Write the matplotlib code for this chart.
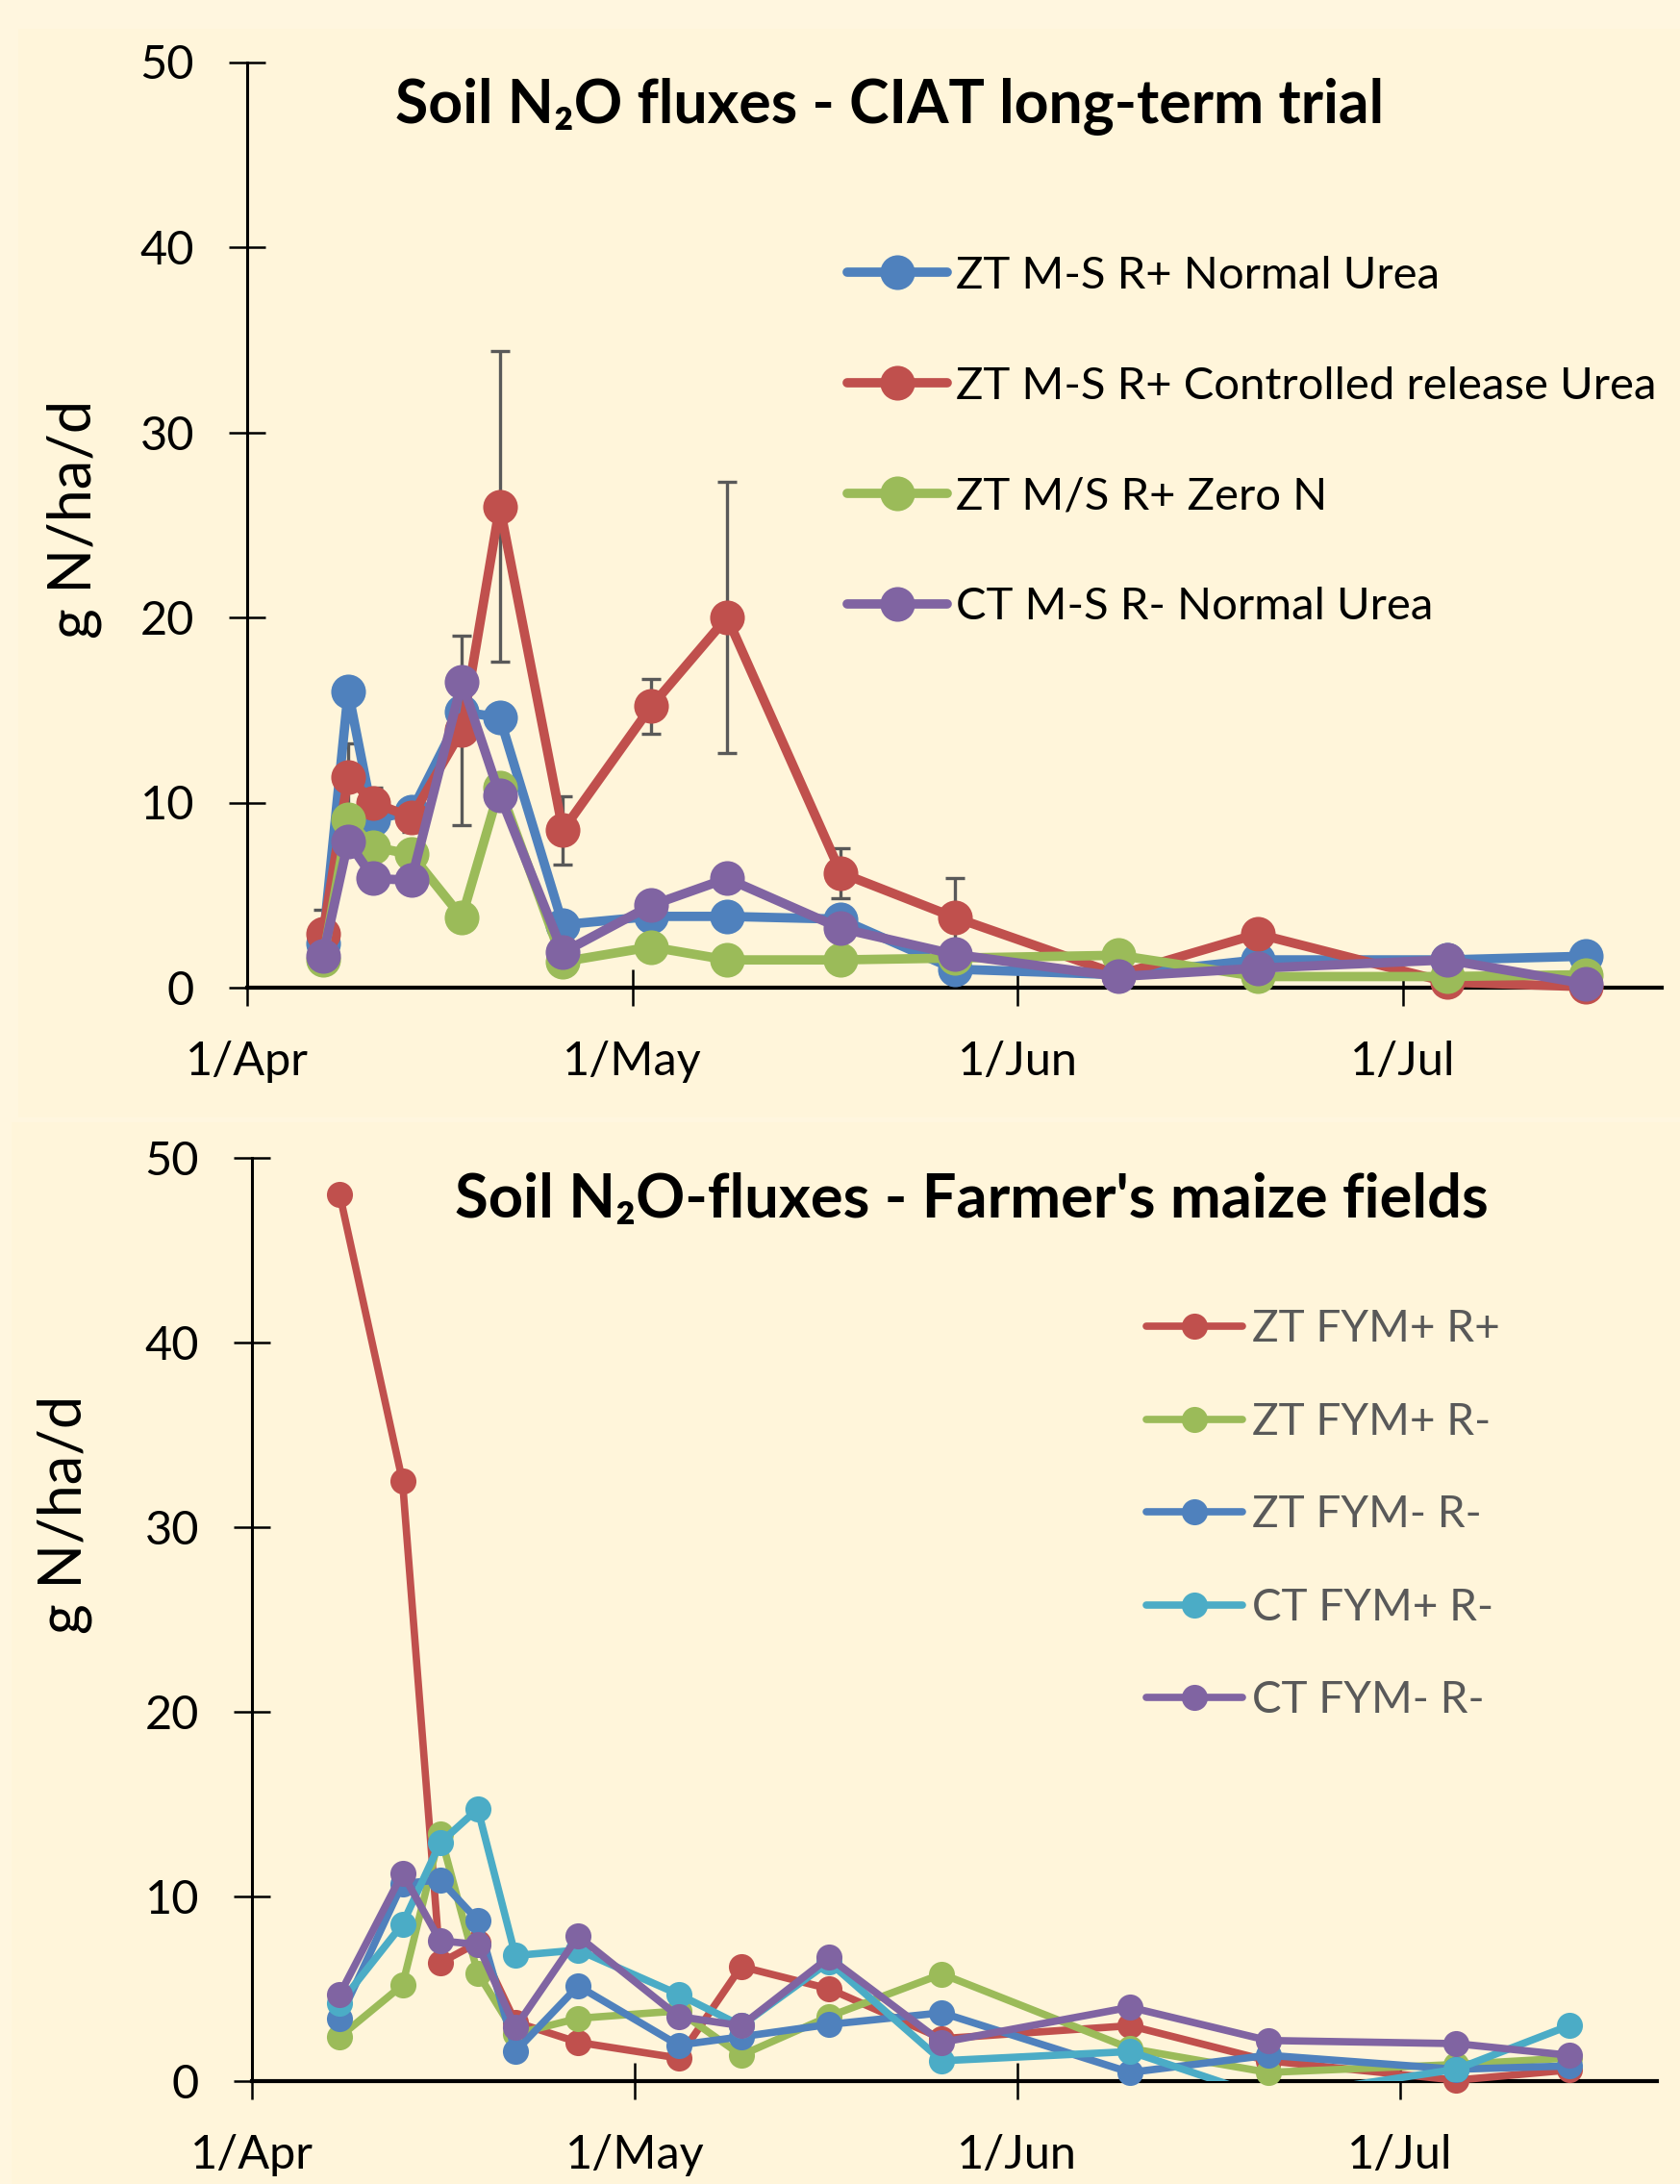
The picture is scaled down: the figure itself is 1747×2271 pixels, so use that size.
import matplotlib
matplotlib.use('Agg')
import matplotlib.pyplot as plt
from matplotlib.patches import Rectangle
import pandas as pd

# ---------------- data ----------------
start = pd.Timestamp('2013-04-01')

top_dates = ['2013-04-07', '2013-04-09', '2013-04-11', '2013-04-14', '2013-04-18',
             '2013-04-21', '2013-04-26', '2013-05-03', '2013-05-09', '2013-05-18',
             '2013-05-27', '2013-06-09', '2013-06-20', '2013-07-05', '2013-07-16']
top_normal_urea = [2.4, 16.0, 9.1, 9.5, 14.9, 14.6, 3.4, 3.85, 3.85, 3.7, 1.0, 0.7, 1.5, 1.5, 1.7]
top_controlled = [2.9, 11.4, 10.0, 9.2, 13.9, 26.0, 8.5, 15.2, 20.0, 6.2, 3.8, 0.7, 2.9, 0.3, 0.05]
top_controlled_err = [1.3, 1.8, 0.8, 0.8, 5.1, 8.4, 1.85, 1.5, 7.35, 1.35, 2.1, 0.5, 0.7, 0.3, 0.2]
top_zero_n = [1.5, 9.1, 7.6, 7.2, 3.8, 10.8, 1.4, 2.2, 1.5, 1.5, 1.6, 1.75, 0.6, 0.6, 0.7]
top_ct_urea = [1.7, 7.9, 5.9, 5.8, 16.5, 10.4, 1.9, 4.45, 5.9, 3.2, 1.8, 0.6, 1.05, 1.5, 0.2]
top_labels = ['ZT M-S R+ Normal Urea', 'ZT M-S R+ Controlled release Urea',
              'ZT M/S R+ Zero N', 'CT M-S R- Normal Urea']

bot_dates = ['2013-04-08', '2013-04-13', '2013-04-16', '2013-04-19', '2013-04-22',
             '2013-04-27', '2013-05-05', '2013-05-10', '2013-05-17', '2013-05-26',
             '2013-06-10', '2013-06-21', '2013-07-06', '2013-07-15']
bot_zt_fym_p_r_p = [48.0, 32.5, 6.4, 7.5, 3.2, 2.1, 1.25, 6.2, 5.0, 2.3, 3.0, 1.1, 0.05, 0.6]
bot_zt_fym_p_r_m = [2.4, 5.2, 13.4, 5.85, 2.55, 3.4, 3.8, 1.4, 3.5, 5.8, 1.77, 0.47, 0.9, 1.25]
bot_zt_fym_m_r_m = [3.4, 10.7, 10.9, 8.7, 1.6, 5.15, 1.95, 2.4, 3.07, 3.7, 0.47, 1.4, 0.64, 0.82]
bot_ct_fym_p_r_m = [4.2, 8.5, 12.9, 14.74, 6.8, 7.1, 4.7, 3.0, 6.45, 1.1, 1.6, -0.9, 0.64, 3.0]
bot_ct_fym_m_r_m = [4.7, 11.25, 7.6, 7.4, 2.9, 7.85, 3.5, 3.0, 6.7, 2.1, 4.0, 2.2, 2.03, 1.4]
bot_labels = ['ZT FYM+ R+', 'ZT FYM+ R-', 'ZT FYM- R-', 'CT FYM+ R-', 'CT FYM- R-']

x_tick_pos = [0, 30.5, 61, 91.5]
x_tick_labels = ['1/Apr', '1/May', '1/Jun', '1/Jul']
y_ticks = [0, 10, 20, 30, 40, 50]

top_x = [(pd.Timestamp(d) - start).days for d in top_dates]
bot_x = [(pd.Timestamp(d) - start).days for d in bot_dates]

# ---------------- style ----------------
FONT = ['Lato', 'DejaVu Sans']
plt.rcParams['font.family'] = FONT
BLUE, RED, GREEN, PURPLE, AQUA = '#4F81BD', '#C0504D', '#9BBB59', '#8064A2', '#4BACC6'
BG = '#FFF5DA'

W, H = 1747, 2271
fig = plt.figure(figsize=(W / 100, H / 100), dpi=100)
fig.patch.set_facecolor('#FFF6DF')
fig.patches.append(Rectangle((19 / W, 1 - 1162 / H), 1, (1162 - 30) / H,
                             transform=fig.transFigure, facecolor=BG, edgecolor='none', zorder=-10))
fig.patches.append(Rectangle((12 / W, 0), 1, (2271 - 1167) / H,
                             transform=fig.transFigure, facecolor=BG, edgecolor='none', zorder=-10))

ax1 = fig.add_axes([257 / W, 1 - 1027 / H, (1728 - 257) / W, (1027 - 64.5) / H])
ax2 = fig.add_axes([262 / W, 1 - 2164 / H, (1723 - 262) / W, (2164 - 1204) / H])

for ax in (ax1, ax2):
    ax.set_facecolor('none')
    ax.set_xlim(0, 112)
    ax.set_ylim(0, 50)
    for s in ('top', 'right'):
        ax.spines[s].set_visible(False)
    ax.spines['left'].set_linewidth(2.2)
    ax.spines['bottom'].set_linewidth(3.0)
    ax.set_xticks(x_tick_pos)
    ax.set_xticklabels(x_tick_labels)
    ax.set_yticks(y_ticks)
    ax.tick_params(axis='both', direction='inout', length=27, width=1.8,
                   labelsize=35, pad=26, colors='black')

# ---------------- top chart ----------------
ax1.errorbar(top_x, top_controlled, yerr=top_controlled_err, fmt='none',
             ecolor='#595959', elinewidth=2.4, capsize=7.5, capthick=2.4, zorder=1.5)
top_series = [top_normal_urea, top_controlled, top_zero_n, top_ct_urea]
top_colors = [BLUE, RED, GREEN, PURPLE]
h1 = []
for vals, col, lab in zip(top_series, top_colors, top_labels):
    ln, = ax1.plot(top_x, vals, color=col, lw=7, marker='o', ms=26,
                   markeredgewidth=0, label=lab, clip_on=False, zorder=3,
                   solid_capstyle='round', solid_joinstyle='round')
    h1.append(ln)

ax1.legend(handles=h1, loc='upper left', bbox_to_anchor=(881 / W, 1 - 266 / H),
           bbox_transform=fig.transFigure, frameon=False, fontsize=34,
           handlelength=2.2, handletextpad=0.2, labelspacing=1.54,
           borderpad=0, borderaxespad=0, numpoints=1)

# ---------------- bottom chart ----------------
bot_series = [bot_zt_fym_p_r_p, bot_zt_fym_p_r_m, bot_zt_fym_m_r_m, bot_ct_fym_p_r_m, bot_ct_fym_m_r_m]
bot_colors = [RED, GREEN, BLUE, AQUA, PURPLE]
h2 = []
for vals, col, lab in zip(bot_series, bot_colors, bot_labels):
    clip = min(vals) < 0
    ln, = ax2.plot(bot_x, vals, color=col, lw=5.5, marker='o', ms=19.5,
                   markeredgewidth=0, label=lab, clip_on=clip, zorder=3,
                   solid_capstyle='round', solid_joinstyle='round')
    h2.append(ln)

ax2.legend(handles=h2, loc='upper left', bbox_to_anchor=(1192 / W, 1 - 1361 / H),
           bbox_transform=fig.transFigure, frameon=False, fontsize=33,
           handlelength=2.18, handletextpad=0.22, labelspacing=1.19,
           borderpad=0, borderaxespad=0, numpoints=1, labelcolor='#595959')

# ---------------- titles & axis labels ----------------
fig.text(925 / W, 1 - 110 / H, 'Soil N\u2082O fluxes - CIAT long-term trial',
         ha='center', va='center', fontsize=45, fontweight='bold', family=FONT)
fig.text(1010 / W, 1 - 1248 / H, "Soil N\u2082O-fluxes - Farmer's maize fields",
         ha='center', va='center', fontsize=45.5, fontweight='bold', family=FONT)
fig.text(77 / W, 1 - 540 / H, 'g N/ha/d', rotation=90, ha='center', va='center',
         fontsize=44, family=FONT)
fig.text(67 / W, 1 - 1575 / H, 'g N/ha/d', rotation=90, ha='center', va='center',
         fontsize=44, family=FONT)

fig.savefig('out.png', dpi=100, facecolor=fig.get_facecolor())
